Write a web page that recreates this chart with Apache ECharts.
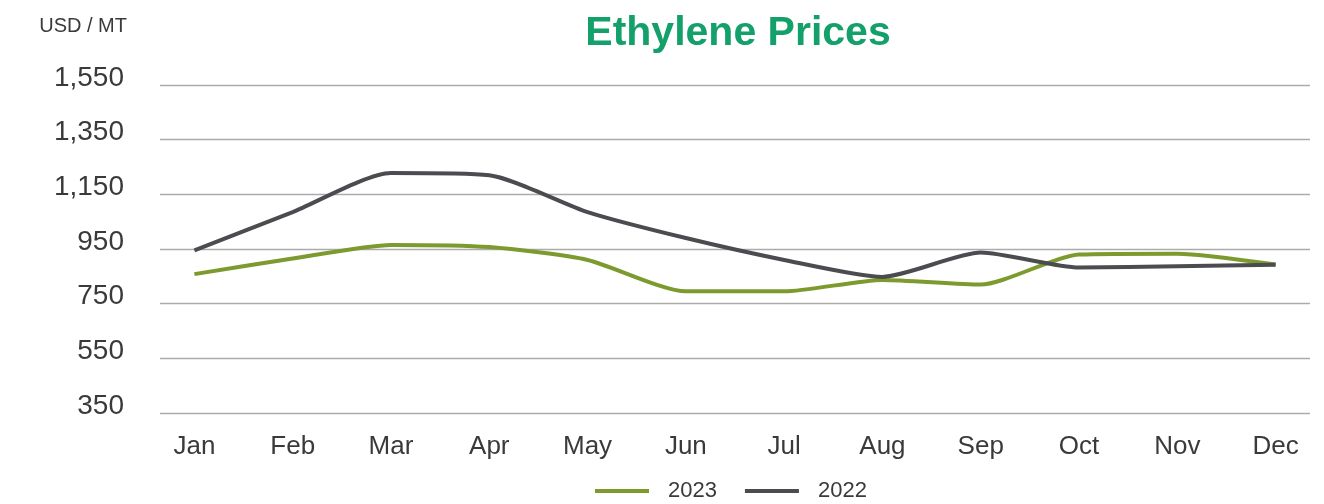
<!DOCTYPE html>
<html>
<head>
<meta charset="utf-8">
<title>Ethylene Prices</title>
<script src="https://cdn.jsdelivr.net/npm/echarts@6/dist/echarts.min.js"></script>
<style>
  html, body { margin: 0; padding: 0; background: #ffffff; }
  #chart { width: 1324px; height: 504px; }
</style>
</head>
<body>
<div id="chart"></div>
<script>
// Monthly ethylene prices, USD per metric ton
const months = ['Jan', 'Feb', 'Mar', 'Apr', 'May', 'Jun', 'Jul', 'Aug', 'Sep', 'Oct', 'Nov', 'Dec'];
const prices2023 = [858, 915, 965, 957, 910, 795, 795, 837, 820, 930, 933, 893];
const prices2022 = [945, 1085, 1228, 1220, 1085, 990, 910, 848, 937, 882, 887, 892];
const yTicks = [350, 550, 750, 950, 1150, 1350, 1550];

const font = '"Liberation Sans", Arial, sans-serif';
const monthIndex = months.map((m, i) => i);
const toPoints = (vals) => vals.map((v, i) => [i, v]);

const chart = echarts.init(document.getElementById('chart'), null, { renderer: 'canvas' });

chart.setOption({
  backgroundColor: '#ffffff',
  animation: false,
  title: [
    {
      text: 'Ethylene Prices',
      left: 733,
      textAlign: 'center',
      top: 8,
      textStyle: { fontFamily: font, fontSize: 41, fontWeight: 'bold', color: '#14a06a' }
    },
    {
      text: 'USD / MT',
      left: 122,
      textAlign: 'right',
      top: 11,
      textStyle: { fontFamily: font, fontSize: 20, fontWeight: 'normal', color: '#3a3a3a' }
    }
  ],
  legend: {
    left: 590,
    bottom: -3,
    icon: 'rect',
    itemWidth: 54,
    itemHeight: 4,
    itemGap: 28,
    textStyle: { fontFamily: font, fontSize: 22, color: '#3a3a3a', padding: [0, 0, 0, 14] },
    data: ['2023', '2022']
  },
  grid: { left: 160, right: 14, top: 85, bottom: 91 },
  xAxis: {
    type: 'value',
    min: -0.35,
    max: 11.35,
    axisLine: { show: false },
    axisTick: { show: false, customValues: monthIndex },
    splitLine: { show: false },
    axisLabel: {
      customValues: monthIndex,
      margin: 21,
      fontFamily: font,
      fontSize: 26,
      color: '#3a3a3a',
      formatter: (v) => months[Math.round(v)]
    }
  },
  yAxis: {
    type: 'value',
    min: 350,
    max: 1550,
    axisLine: { show: false },
    axisTick: { show: false, customValues: yTicks },
    splitLine: { show: true, lineStyle: { color: '#ababab', width: 1.3 } },
    axisLabel: {
      customValues: yTicks,
      margin: 36,
      verticalAlign: 'bottom',
      lineHeight: 14,
      fontFamily: font,
      fontSize: 28,
      color: '#3a3a3a',
      formatter: (v) => v.toLocaleString('en-US')
    }
  },
  series: [
    {
      name: '2023',
      type: 'line',
      data: toPoints(prices2023),
      smooth: 0.22,
      symbol: 'none',
      lineStyle: { color: '#7d9a2e', width: 4 },
      itemStyle: { color: '#7d9a2e' }
    },
    {
      name: '2022',
      type: 'line',
      data: toPoints(prices2022),
      smooth: 0.22,
      symbol: 'none',
      lineStyle: { color: '#4b4c50', width: 4 },
      itemStyle: { color: '#4b4c50' }
    }
  ]
});
</script>
</body>
</html>
